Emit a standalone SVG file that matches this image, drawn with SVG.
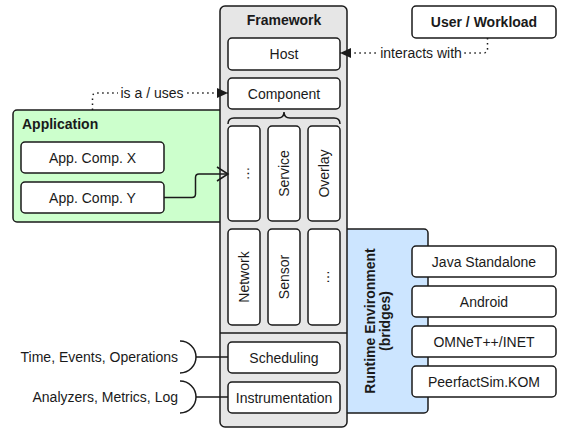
<svg xmlns="http://www.w3.org/2000/svg" width="563" height="432" viewBox="0 0 563 432">
<defs>
<style>
.box{fill:#fff;stroke:#1a1a1a;stroke-width:1.5}
.t{font-family:"Liberation Sans",Arial,sans-serif;font-size:14px;fill:#1a1a1a;text-anchor:middle}
.b{font-weight:bold}
.dot{fill:none;stroke:#1a1a1a;stroke-width:1.5;stroke-dasharray:1.5 3.5}
.ln{fill:none;stroke:#1a1a1a;stroke-width:1.5}
</style>
<marker id="fa" markerWidth="12" markerHeight="10" refX="11" refY="5" orient="auto" markerUnits="userSpaceOnUse">
<path d="M0,0 L11,5 L0,10 Z" fill="#1a1a1a"/>
</marker>
<marker id="oa" markerWidth="14" markerHeight="16" refX="12" refY="8" orient="auto" markerUnits="userSpaceOnUse">
<path d="M1,1 L12,8 L1,15" fill="none" stroke="#1a1a1a" stroke-width="1.5"/>
</marker>
</defs>
<rect width="563" height="432" fill="#fff"/>

<g id="application">
<rect x="13" y="110" width="222" height="112" rx="4" fill="#ccffcc" stroke="#1a1a1a" stroke-width="1.5"/>
<text class="t b" x="22" y="129" style="text-anchor:start">Application</text>
</g>
<g id="app-comp-x">
<rect class="box" x="21" y="142" width="143" height="31" rx="4"/>
<text class="t" x="92.5" y="162.5">App. Comp. X</text>
</g>
<g id="app-comp-y">
<rect class="box" x="21" y="182" width="143" height="31" rx="4"/>
<text class="t" x="92.5" y="202.5">App. Comp. Y</text>
</g>

<g id="runtime">
<rect x="330" y="229" width="98" height="184" rx="4" fill="#cce5ff" stroke="#1a1a1a" stroke-width="1.5"/>
<g transform="translate(377,321) rotate(-90)">
<text class="t b" x="0" y="-2">Runtime Environment</text>
<text class="t b" x="0" y="13">(bridges)</text>
</g>
</g>

<g id="framework">
<rect x="220" y="6" width="127" height="421" rx="5" fill="#e6e6e6" stroke="#1a1a1a" stroke-width="1.5"/>
<text class="t b" x="284" y="25">Framework</text>
<line class="ln" x1="220" y1="333" x2="347" y2="333"/>
<path class="ln" d="M228,124 Q228,118 234,118 L278,118 Q284,118 284,112 Q284,118 290,118 L334,118 Q340,118 340,124"/>
</g>
<g id="host">
<rect class="box" x="228" y="38" width="112" height="32" rx="4"/>
<text class="t" x="284" y="58.5">Host</text>
</g>
<g id="component">
<rect class="box" x="228" y="78" width="112" height="31" rx="4"/>
<text class="t" x="284" y="98.5">Component</text>
</g>
<g id="more1">
<rect class="box" x="228" y="126" width="32" height="95" rx="4"/>
<text class="t" transform="translate(244,173.5) rotate(-90)" y="5">…</text>
</g>
<g id="service">
<rect class="box" x="268" y="126" width="32" height="95" rx="4"/>
<text class="t" transform="translate(284,173.5) rotate(-90)" y="5">Service</text>
</g>
<g id="overlay">
<rect class="box" x="308" y="126" width="32" height="95" rx="4"/>
<text class="t" transform="translate(324,173.5) rotate(-90)" y="5">Overlay</text>
</g>
<g id="network">
<rect class="box" x="228" y="229" width="32" height="96" rx="4"/>
<text class="t" transform="translate(244,277) rotate(-90)" y="5">Network</text>
</g>
<g id="sensor">
<rect class="box" x="268" y="229" width="32" height="96" rx="4"/>
<text class="t" transform="translate(284,277) rotate(-90)" y="5">Sensor</text>
</g>
<g id="more2">
<rect class="box" x="308" y="229" width="32" height="96" rx="4"/>
<text class="t" transform="translate(324,277) rotate(-90)" y="5">…</text>
</g>
<g id="scheduling">
<rect class="box" x="228" y="342" width="112" height="31" rx="4"/>
<text class="t" x="284" y="362.5">Scheduling</text>
</g>
<g id="instrumentation">
<rect class="box" x="228" y="382" width="112" height="31" rx="4"/>
<text class="t" x="284" y="402.5">Instrumentation</text>
</g>

<g id="user-workload">
<rect class="box" x="412" y="6" width="144" height="32" rx="4"/>
<text class="t b" x="484" y="27">User / Workload</text>
</g>
<g id="java">
<rect class="box" x="412" y="246" width="144" height="31" rx="4"/>
<text class="t" x="484" y="266.5">Java Standalone</text>
</g>
<g id="android">
<rect class="box" x="412" y="286" width="144" height="31" rx="4"/>
<text class="t" x="484" y="306.5">Android</text>
</g>
<g id="omnet">
<rect class="box" x="412" y="326" width="144" height="31" rx="4"/>
<text class="t" x="484" y="346.5">OMNeT++/INET</text>
</g>
<g id="peerfact">
<rect class="box" x="412" y="366" width="144" height="31" rx="4"/>
<text class="t" x="484" y="386.5">PeerfactSim.KOM</text>
</g>

<g id="connectors">
<path class="dot" d="M92.5,110 L92.5,97 Q92.5,93 96.5,93 L228,93" marker-end="url(#fa)"/>
<rect x="118" y="84" width="68" height="16" fill="#fff"/>
<text class="t" x="152" y="97.5">is a / uses</text>
<path class="dot" d="M487.5,38 L487.5,49 Q487.5,53 483.5,53 L340,53" marker-end="url(#fa)"/>
<rect x="378" y="44" width="86" height="16" fill="#fff"/>
<text class="t" x="421" y="58">interacts with</text>
<path class="ln" d="M164,197.5 L192,197.5 Q195.5,197.5 195.5,194 L195.5,177.5 Q195.5,174 199,174 L228,174" marker-end="url(#oa)"/>
<path class="ln" d="M180,341 A16,16 0 0 1 180,373"/>
<line class="ln" x1="196" y1="357" x2="228" y2="357"/>
<text class="t" x="178" y="362" style="text-anchor:end">Time, Events, Operations</text>
<path class="ln" d="M180,381 A16,16 0 0 1 180,413"/>
<line class="ln" x1="196" y1="397" x2="228" y2="397"/>
<text class="t" x="178" y="402" style="text-anchor:end">Analyzers, Metrics, Log</text>
</g>
</svg>
